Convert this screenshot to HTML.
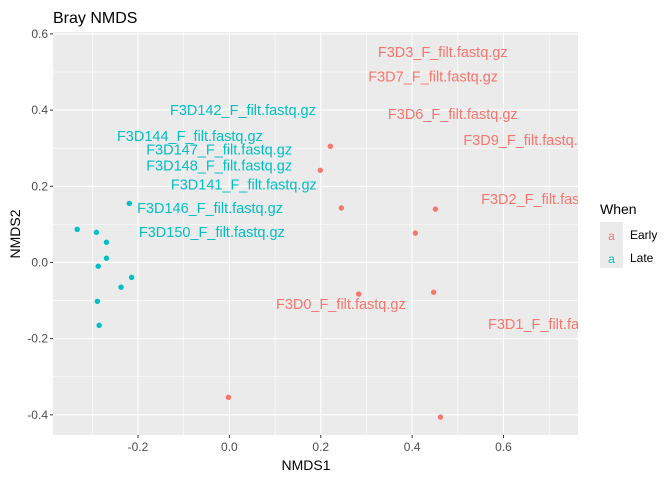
<!DOCTYPE html>
<html><head><meta charset="utf-8"><style>
body{margin:0;background:#fff;}
svg text{font-family:"Liberation Sans",Arial,sans-serif;}
</style></head><body>
<svg id="chart" width="672" height="480" xmlns="http://www.w3.org/2000/svg">
<defs><clipPath id="pc"><rect x="53" y="32" width="525" height="403"/></clipPath></defs>
<text x="53" y="23" font-size="16" fill="#000">Bray NMDS</text>
<rect x="53" y="32" width="525" height="403" fill="#EBEBEB"/>
<g id="grid"></g>
<g id="marks" clip-path="url(#pc)"></g>
<g id="axes"></g>
<text x="306" y="470" font-size="14" text-anchor="middle" fill="#000">NMDS1</text>
<text transform="translate(20,234) rotate(-90)" font-size="14" text-anchor="middle" fill="#000">NMDS2</text>
<g>
<text x="600" y="214" font-size="14" fill="#000">When</text>
<rect x="600" y="222" width="23" height="46" fill="#EBEBEB"/>
<g><text x="611.5" y="240" font-size="12" text-anchor="middle" fill="#F8766D">a</text><text x="630" y="239" font-size="12" fill="#000">Early</text></g>
<g><text x="611.5" y="263" font-size="12" text-anchor="middle" fill="#00BFC4">a</text><text x="630" y="262" font-size="12" fill="#000">Late</text></g>
</g>
</svg>
<script>
const xTicks=[-0.2,0.0,0.2,0.4,0.6];
const yTicks=[-0.4,-0.2,0.0,0.2,0.4,0.6];
const xTickLabels=["-0.2","0.0","0.2","0.4","0.6"];
const yTickLabels=["-0.4","-0.2","0.0","0.2","0.4","0.6"];
const lateX=[-0.333,-0.291,-0.269,-0.269,-0.287,-0.214,-0.237,-0.289,-0.285,-0.219];
const lateY=[0.087,0.079,0.053,0.011,-0.010,-0.039,-0.065,-0.102,-0.165,0.155];
const earlyX=[-0.002,0.221,0.199,0.245,0.283,0.407,0.451,0.447,0.462];
const earlyY=[-0.354,0.305,0.242,0.143,-0.083,0.077,0.140,-0.078,-0.406];
const lateLabels=["F3D142_F_filt.fastq.gz","F3D144_F_filt.fastq.gz","F3D147_F_filt.fastq.gz","F3D148_F_filt.fastq.gz","F3D141_F_filt.fastq.gz","F3D146_F_filt.fastq.gz","F3D150_F_filt.fastq.gz"];
const lateLabelX=[-0.130,-0.246,-0.182,-0.182,-0.128,-0.202,-0.198];
const lateLabelY=[0.400,0.332,0.297,0.255,0.205,0.143,0.080];
const earlyLabels=["F3D0_F_filt.fastq.gz","F3D3_F_filt.fastq.gz","F3D7_F_filt.fastq.gz","F3D6_F_filt.fastq.gz","F3D9_F_filt.fastq.gz","F3D2_F_filt.fastq.gz","F3D1_F_filt.fastq.gz"];
const earlyLabelX=[0.102,0.325,0.304,0.347,0.512,0.551,0.566];
const earlyLabelY=[-0.109,0.553,0.488,0.390,0.322,0.167,-0.161];

const X0=53,X1=578,Y0=32,Y1=435;
const xMin=-0.386,xMax=0.763,yMin=-0.453,yMax=0.605;
const sx=v=>X0+(v-xMin)/(xMax-xMin)*(X1-X0);
const sy=v=>Y1-(v-yMin)/(yMax-yMin)*(Y1-Y0);
const NS="http://www.w3.org/2000/svg";
function mk(tag,attrs,parent){const e=document.createElementNS(NS,tag);for(const k in attrs)e.setAttribute(k,attrs[k]);parent.appendChild(e);return e;}
const grid=document.getElementById('grid'),marks=document.getElementById('marks'),axes=document.getElementById('axes');
for(let i=0;i<=xTicks.length;i++){const v=xTicks[0]-0.1+i*0.2;if(v<xMin||v>xMax)continue;const l=mk('line',{x1:sx(v),x2:sx(v),y1:Y0,y2:Y1,stroke:'#fff','stroke-width':0.55},grid);
}
for(let i=0;i<=yTicks.length;i++){const v=yTicks[0]-0.1+i*0.2;if(v<yMin||v>yMax)continue;const l=mk('line',{x1:X0,x2:X1,y1:sy(v),y2:sy(v),stroke:'#fff','stroke-width':0.55},grid);
}
xTicks.forEach((v,i)=>{const l=mk('line',{x1:sx(v),x2:sx(v),y1:Y0,y2:Y1,stroke:'#fff','stroke-width':1.1},grid);

mk('line',{x1:sx(v),x2:sx(v),y1:Y1,y2:Y1+3,stroke:'#333','stroke-width':1},axes);
const t=mk('text',{x:sx(v),y:Y1+16,'font-size':12,'text-anchor':'middle',fill:'#4D4D4D'},axes);t.textContent=xTickLabels[i];
});
yTicks.forEach((v,i)=>{const l=mk('line',{x1:X0,x2:X1,y1:sy(v),y2:sy(v),stroke:'#fff','stroke-width':1.1},grid);

mk('line',{x1:X0-3,x2:X0,y1:sy(v),y2:sy(v),stroke:'#333','stroke-width':1},axes);
const t=mk('text',{x:X0-5,y:sy(v)+4,'font-size':12,'text-anchor':'end',fill:'#4D4D4D'},axes);t.textContent=yTickLabels[i];
});
function pts(xs,ys,col,name){xs.forEach((x,i)=>{const c=mk('circle',{cx:sx(x),cy:sy(ys[i]),r:2.7,fill:col},marks);
});}
function labs(ls,xs,ys,col){ls.forEach((s,i)=>{const t=mk('text',{x:sx(xs[i]),y:sy(ys[i])+5,'font-size':14.5,fill:col},marks);t.textContent=s;
});}
pts(lateX,lateY,'#00BFC4','late-point');
pts(earlyX,earlyY,'#F8766D','early-point');
labs(lateLabels,lateLabelX,lateLabelY,'#00BFC4');
labs(earlyLabels,earlyLabelX,earlyLabelY,'#F8766D');
</script>
</body></html>
